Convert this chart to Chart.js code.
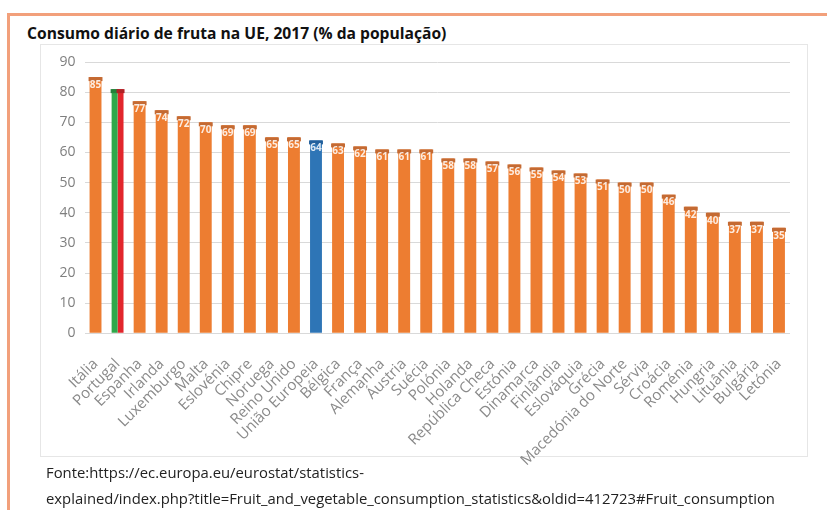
<!DOCTYPE html>
<html><head><meta charset="utf-8">
<script src="https://cdn.jsdelivr.net/npm/chart.js@4/dist/chart.umd.min.js"></script>
<style>
html,body{margin:0;padding:0;background:#fff;width:827px;height:510px;overflow:hidden;font-family:"Open Sans",sans-serif;}
#frame{position:absolute;left:7px;top:13px;width:830px;height:520px;border-left:3px solid #f2a07b;border-top:3px solid #f2a07b;box-sizing:border-box;}
#box{position:absolute;left:40px;top:44px;width:768px;height:413px;border:1px solid #e6e6e6;box-sizing:border-box;}
#title{position:absolute;left:27px;top:22px;font-weight:bold;font-size:15px;color:#111;white-space:nowrap;line-height:22px;}
#src{position:absolute;left:46px;top:459px;font-size:14px;color:#222;white-space:nowrap;}
#src span{display:inline-block;line-height:26px;}
canvas{position:absolute;left:0;top:0;}
</style></head>
<body>
<div id="frame"></div>
<div id="box"></div>
<div id="title"><span id="t1">Consumo diário de fruta na UE, 2017 (% da população)</span></div>
<canvas id="c" width="827" height="510"></canvas>
<div id="src"><span id="s1">Fonte:https://ec.europa.eu/eurostat/statistics-</span><br><span id="s2">explained/index.php?title=Fruit_and_vegetable_consumption_statistics&amp;oldid=412723#Fruit_consumption</span></div>
<script>
const categories = ["Itália","Portugal","Espanha","Irlanda","Luxemburgo","Malta","Eslovénia","Chipre","Noruega","Reino Unido","União Europeia","Bélgica","França","Alemanha","Áustria","Suécia","Polónia","Holanda","República Checa","Estónia","Dinamarca","Finlândia","Eslováquia","Grécia","Macedónia do Norte","Sérvia","Croácia","Roménia","Hungria","Lituânia","Bulgária","Letónia"];
const values = [85,81,77,74,72,70,69,69,65,65,64,63,62,61,61,61,58,58,57,56,55,54,53,51,50,50,46,42,40,37,37,35];
const yTicks = [0,10,20,30,40,50,60,70,80,90];

const ORANGE = "#ed7d31", BLUE = "#2e75b6", GREEN = "#2fa84a", RED = "#e2262c";
const colorOf = c => c === "Portugal" ? GREEN : (c === "União Europeia" ? BLUE : ORANGE);
const capOf = { [ORANGE]: "#c46a33", [BLUE]: "#22609c", [GREEN]: "#23803a", [RED]: "#b02226" };

const portugalHalf = categories.map((c, i) => c === "Portugal" ? values[i] : null);

function fitText(id, target) {
  const el = document.getElementById(id);
  const cs = parseFloat(getComputedStyle(el).fontSize);
  const w = el.getBoundingClientRect().width;
  el.style.fontSize = (cs * target / w) + "px";
}
fitText("t1", 420);
fitText("s2", 730);
document.getElementById("s1").style.fontSize = document.getElementById("s2").style.fontSize;

const capsPlugin = {
  id: "caps",
  afterDatasetsDraw(chart) {
    const ctx = chart.ctx;
    ctx.save();
    chart.data.datasets.forEach((ds, di) => {
      const meta = chart.getDatasetMeta(di);
      meta.data.forEach((bar, i) => {
        const v = ds.data[i];
        if (v == null) return;
        const p = bar.getProps(["x", "y", "width"], true);
        const col = Array.isArray(ds.backgroundColor) ? ds.backgroundColor[i] : ds.backgroundColor;
        ctx.fillStyle = capOf[col] || "#a0522d";
        ctx.fillRect(p.x - p.width / 2 - 1, p.y, p.width + 2, 4);
        if (di === 0 && categories[i] !== "Portugal") {
          ctx.fillStyle = "rgba(255,255,255,0.85)";
          ctx.font = "bold 10px 'Open Sans', sans-serif";
          ctx.textAlign = "center";
          ctx.textBaseline = "top";
          ctx.fillText(String(v), p.x, p.y + 3);
        }
      });
    });
    ctx.restore();
  }
};

new Chart(document.getElementById("c"), {
  type: "bar",
  data: {
    labels: categories,
    datasets: [
      { data: values, backgroundColor: categories.map(colorOf) },
      { data: portugalHalf, backgroundColor: RED }
    ]
  },
  options: {
    responsive: false,
    animation: false,
    layout: { padding: { left: 40, right: 37, top: 62, bottom: 0 } },
    datasets: { bar: { skipNull: true, categoryPercentage: 0.54, barPercentage: 1 } },
    plugins: { legend: { display: false }, tooltip: { enabled: false } },
    scales: {
      x: {
        grid: { display: false },
        border: { display: false },
        ticks: { color: "#8a8a8a", font: { family: "'Open Sans', sans-serif", size: 15 }, maxRotation: 45, minRotation: 45, autoSkip: false, padding: 14 },
        afterFit: s => { s.height = 176.7; }
      },
      y: {
        min: 0, max: 90,
        afterBuildTicks: s => { s.ticks = yTicks.map(v => ({ value: v })); },
        grid: { color: "#d9d9d9", drawTicks: false },
        border: { display: false },
        ticks: { color: "#7f7f7f", font: { family: "'Open Sans', sans-serif", size: 14 }, padding: 9 },
        afterFit: s => { s.width = 44.5; }
      }
    }
  },
  plugins: [capsPlugin]
});
</script>
</body></html>
